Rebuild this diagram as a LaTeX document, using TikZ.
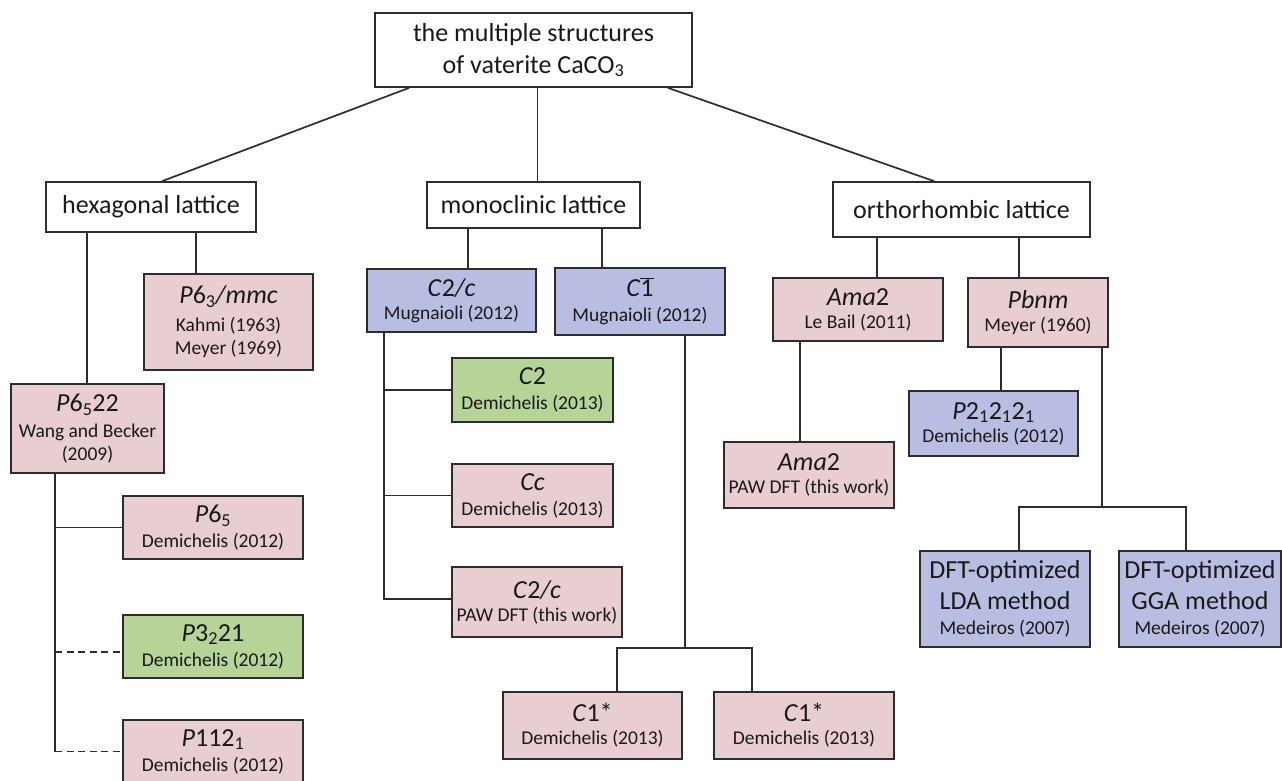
\documentclass[tikz,border=0pt]{standalone}
\usepackage{fontspec}
\setmainfont{Carlito}
\usetikzlibrary{calc}
\definecolor{pinkf}{RGB}{232,206,208}
\definecolor{bluef}{RGB}{185,189,225}
\definecolor{greenf}{RGB}{182,211,152}
\definecolor{edgec}{RGB}{45,45,45}
\definecolor{txt}{RGB}{25,25,25}
\newcommand{\bigf}{\fontsize{26}{30}\selectfont}
\newcommand{\smallf}{\fontsize{19.5}{23}\selectfont}
\tikzset{
  box/.style={draw=edgec, line width=1.7pt, inner sep=0pt, align=center, text=txt, font=\smallf},
  plainbox/.style={box, fill=white, font=\fontsize{26}{32}\selectfont},
  pinkbox/.style={box, fill=pinkf},
  bluebox/.style={box, fill=bluef},
  greenbox/.style={box, fill=greenf},
  dftbox/.style={box, fill=bluef, font=\fontsize{26}{31}\selectfont},
  conn/.style={draw=edgec, line width=1.7pt},
  dconn/.style={conn, dash pattern=on 7pt off 4.5pt},
}
\begin{document}
\begin{tikzpicture}[x=1pt,y=-1pt]
\useasboundingbox (0,0) rectangle (1282,780);
% lattice level
\node[plainbox, minimum width=317pt, minimum height=74pt] (top) at (533.5,50) {the multiple structures\\ of vaterite CaCO\textsubscript{3}};
\node[plainbox, minimum width=210pt, minimum height=50pt] (hex) at (151,207) {hexagonal lattice};
\node[plainbox, minimum width=213pt, minimum height=46pt] (mono) at (533.5,205) {monoclinic lattice};
\node[plainbox, minimum width=257pt, minimum height=55pt] (ortho) at (961.5,209.5) {orthorhombic lattice};
% hexagonal branch
\node[pinkbox, minimum width=169pt, minimum height=96pt] (P63) at (228.5,322) {{\bigf\textit{P}6\textsubscript{3}\textit{/mmc}}\\[5pt] Kahmi (1963)\\ Meyer (1969)};
\node[pinkbox, minimum width=153pt, minimum height=89pt] (P6522) at (87.5,428.5) {{\bigf\textit{P}6\textsubscript{5}22}\\[3pt] Wang and Becker\\ (2009)};
\node[pinkbox, minimum width=180pt, minimum height=63pt] (P65) at (213,527.5) {{\bigf\textit{P}6\textsubscript{5}}\\[2pt] Demichelis (2012)};
\node[greenbox, minimum width=180pt, minimum height=63pt] (P3221) at (213,646.5) {{\bigf\textit{P}3\textsubscript{2}21}\\[2pt] Demichelis (2012)};
\node[pinkbox, minimum width=180pt, minimum height=63pt] (P1121) at (213,751.5) {{\bigf\textit{P}112\textsubscript{1}}\\[2pt] Demichelis (2012)};
% monoclinic branch
\node[bluebox, minimum width=169pt, minimum height=63pt] (C2c) at (451.5,300.5) {{\bigf\textit{C}2\textit{/c}}\\ Mugnaioli (2012)};
\node[bluebox, minimum width=170pt, minimum height=67pt] (C1bar) at (640,301.5) {{\bigf\textit{C}\ensuremath{\overline{\mbox{1}}}}\\[2pt] Mugnaioli (2012)};
\node[greenbox, minimum width=161pt, minimum height=64pt] (C2) at (532.5,390) {{\bigf\textit{C}2}\\[2pt] Demichelis (2013)};
\node[pinkbox, minimum width=161pt, minimum height=63pt] (Cc) at (532.5,495.5) {{\bigf\textit{Cc}}\\[2pt] Demichelis (2013)};
\node[pinkbox, minimum width=170pt, minimum height=70pt] (C2cPAW) at (537,602) {{\bigf\textit{C}2\textit{/c}}\\ PAW DFT (this work)};
\node[pinkbox, minimum width=179pt, minimum height=67pt] (C1a) at (592.5,725.5) {{\bigf\textit{C}1*}\\ Demichelis (2013)};
\node[pinkbox, minimum width=180pt, minimum height=67pt] (C1b) at (804,725.5) {{\bigf\textit{C}1*}\\ Demichelis (2013)};
% orthorhombic branch
\node[pinkbox, minimum width=170pt, minimum height=63pt] (Ama2) at (858,309.5) {{\bigf\textit{Ama}2}\\ Le Bail (2011)};
\node[pinkbox, minimum width=140pt, minimum height=69pt] (Pbnm) at (1038,312.5) {{\bigf\textit{Pbnm}}\\ Meyer (1960)};
\node[bluebox, minimum width=169pt, minimum height=65pt] (P212121) at (993.5,423.5) {{\bigf\textit{P}2\textsubscript{1}2\textsubscript{1}2\textsubscript{1}}\\ Demichelis (2012)};
\node[pinkbox, minimum width=170pt, minimum height=66pt] (AmaPAW) at (809,475) {{\bigf\textit{Ama}2}\\ PAW DFT (this work)};
\node[dftbox, minimum width=170pt, minimum height=96pt] (LDA) at (1005,599) {DFT-optimized\\ LDA method\\[-6pt] {\smallf Medeiros (2007)}};
\node[dftbox, minimum width=162pt, minimum height=96pt] (GGA) at (1200,599) {DFT-optimized\\ GGA method\\[-6pt] {\smallf Medeiros (2007)}};
% connectors from the root
\draw[conn] ([xshift=35pt]top.south west) -- ([xshift=117pt]hex.north west);
\draw[conn] ([xshift=4pt]top.south) -- ([xshift=4pt]top.south |- mono.north);
\draw[conn] ([xshift=-25pt]top.south east) -- ([xshift=102pt]ortho.north west);
% hexagonal connectors
\draw[conn] ([xshift=42pt]hex.south west) -- ([xshift=42pt]hex.south west |- P6522.north);
\draw[conn] ([xshift=53pt]P63.north west) -- ([xshift=53pt]P63.north west |- hex.south);
\coordinate (hv) at ([xshift=45pt]P6522.south west);
\coordinate (p32w) at ([yshift=-5.5pt]P3221.west);
\draw[conn] (hv) -- (hv |- P1121.west);
\draw[conn] (hv |- P65.west) -- (P65.west);
\draw[dconn] (hv |- p32w) -- (p32w);
\draw[dconn] (hv |- P1121.west) -- (P1121.west);
% monoclinic connectors
\draw[conn] ([xshift=102pt]C2c.north west) -- ([xshift=102pt]C2c.north west |- mono.south);
\draw[conn] ([xshift=48pt]C1bar.north west) -- ([xshift=48pt]C1bar.north west |- mono.south);
\coordinate (cv) at ([xshift=18pt]C2c.south west);
\draw[conn] (cv) |- ([yshift=3pt]C2cPAW.west);
\draw[conn] (cv |- C2.west) -- (C2.west);
\draw[conn] (cv |- Cc.west) -- (Cc.west);
\coordinate (c1v) at ([xshift=131pt]C1bar.south west);
\coordinate (c1j) at ($(c1v |- C1a.north)+(0,-43)$);
\draw[conn] (c1v) -- (c1j);
\draw[conn] ([xshift=115pt]C1a.north west) |- (c1j) -| ([xshift=39pt]C1b.north west);
% orthorhombic connectors
\draw[conn] ([xshift=105pt]Ama2.north west) -- ([xshift=105pt]Ama2.north west |- ortho.south);
\draw[conn] ([xshift=52pt]Pbnm.north west) -- ([xshift=52pt]Pbnm.north west |- ortho.south);
\draw[conn] ([xshift=28pt]Ama2.south west) -- ([xshift=28pt]Ama2.south west |- AmaPAW.north);
\draw[conn] ([xshift=34pt]Pbnm.south west) -- ([xshift=34pt]Pbnm.south west |- P212121.north);
\coordinate (pv) at ([xshift=135pt]Pbnm.south west);
\coordinate (pj) at ($(pv |- LDA.north)+(0,-43)$);
\draw[conn] (pv) -- (pj);
\draw[conn] ([xshift=100pt]LDA.north west) |- (pj) -| ([xshift=68pt]GGA.north west);
\end{tikzpicture}
\end{document}
